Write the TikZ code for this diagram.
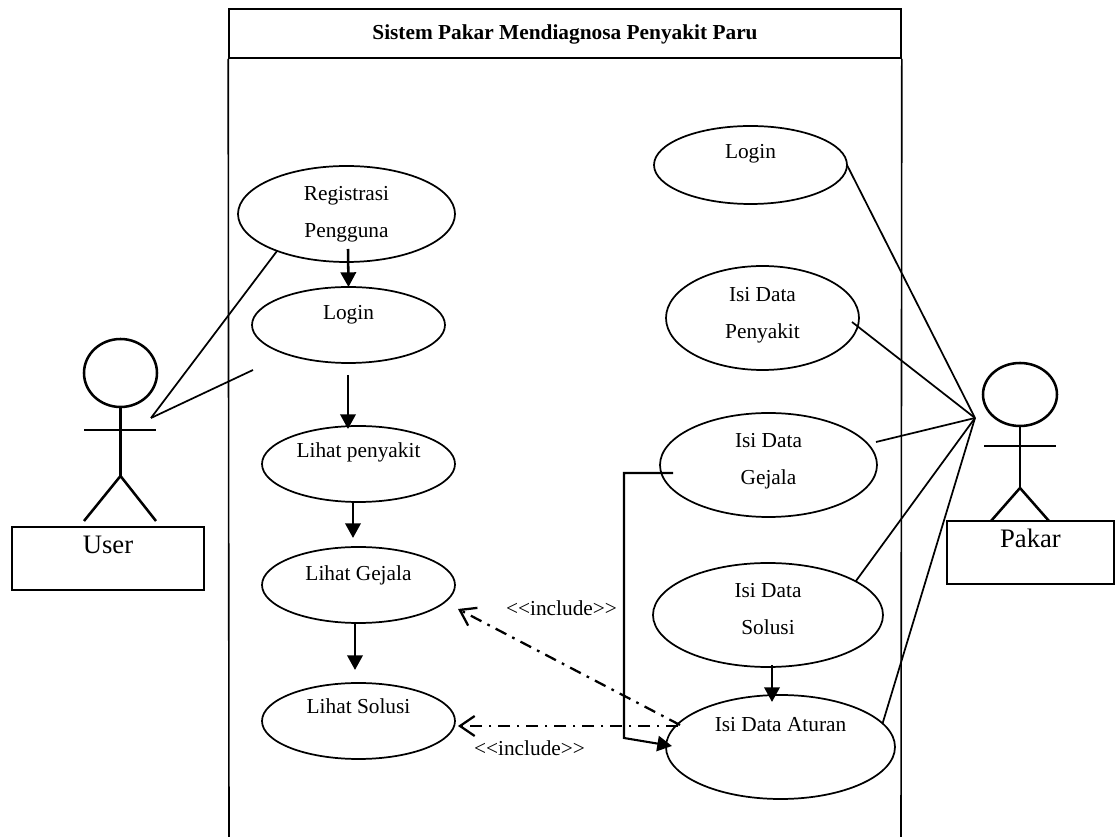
\documentclass[tikz,border=0pt]{standalone}
\usepackage{fontspec}
\setmainfont{Liberation Serif}
\usetikzlibrary{shapes.geometric,arrows.meta}
\tikzset{
  usecase/.style 2 args={draw,ellipse,line width=1.3pt,inner sep=0pt,outer sep=0pt,%
                         minimum width=#1*0.75pt,minimum height=#2*0.75pt,align=center},
  oneline/.style={text height=11pt,text depth=#1},
  oneline/.default=18.5pt,
  twoline/.style={text depth=#1},
  namebox/.style 2 args={draw,line width=1.2pt,inner sep=0pt,font=\fontsize{20}{24}\selectfont,%
                         minimum width=#1*0.75pt,minimum height=#2*0.75pt,%
                         text height=14pt,text depth=22.2pt},
  head/.style={draw,ellipse,line width=1.9pt,inner sep=0pt},
  limb/.style={line width=1.9pt},
  assoc/.style={line width=1.3pt},
  frameline/.style={line width=1.2pt},
  flow/.style={line width=1.9pt,-{Triangle[length=11pt,width=11.5pt]}},
  incl/.style={line width=1.7pt,dash pattern=on 9pt off 5pt on 2pt off 5pt,%
               -{Straight Barb[length=11pt,width=15pt]}}
}
\begin{document}
\begin{tikzpicture}[x=0.75pt,y=-0.75pt,every node/.style={font=\fontsize{16}{27.5}\selectfont}]
\useasboundingbox (0,0) rectangle (1115,837);
% sistem
\node[draw,frameline,minimum width=504pt,minimum height=36.75pt,inner sep=0pt,%
      text height=13pt,text depth=3.5pt,%
      font=\fontsize{16}{27.5}\selectfont\bfseries] (sistem) at (565,33.5)
      {Sistem Pakar Mendiagnosa Penyakit Paru};
\coordinate (bawahkiri) at (229,837);
\coordinate (bawahkanan) at (901,837);
\draw[frameline] (sistem.south west) -- (bawahkiri);
\draw[frameline] (sistem.south east) -- (bawahkanan);
% use case user
\node[usecase={217}{96}] (registrasi) at (346.5,214) {Registrasi\\Pengguna};
\node[usecase={193}{76},oneline] (login) at (348.5,325) {Login};
\node[usecase={193}{76},oneline=20pt] (penyakit) at (358.5,464) {Lihat penyakit};
\node[usecase={193}{76},oneline=17pt] (gejala) at (358.5,585) {Lihat Gejala};
\node[usecase={193}{76},oneline=21.5pt] (solusi) at (358.5,721) {Lihat Solusi};
% use case pakar
\node[usecase={193}{78},oneline=20pt] (loginp) at (750.5,165) {Login};
\node[usecase={193}{104},twoline=8pt] (isipenyakit) at (762.5,318) {Isi Data\\Penyakit};
\node[usecase={217}{104},twoline=9.5pt] (isigejala) at (768.5,465) {Isi Data\\Gejala};
\node[usecase={230}{104},twoline=9.5pt] (isisolusi) at (768,615) {Isi Data\\Solusi};
\node[usecase={229}{104},oneline=33.5pt] (isiaturan) at (780.5,747) {Isi Data Aturan};
% aktor user
\node[head,minimum width=54.75pt,minimum height=51pt] (kepalau) at (120.5,373) {};
\coordinate (pinggulu) at (120.5,476);
\coordinate (tanganul) at (84,430);
\coordinate (tanganur) at (156,430);
\coordinate (kakiul) at (84,521);
\coordinate (kakiur) at (156,521);
\draw[limb] (kepalau.south) -- (pinggulu);
\draw[limb] (tanganul) -- (tanganur);
\draw[limb] (kakiul) -- (pinggulu) -- (kakiur);
\node[namebox={192}{63}] (user) at (108,558.5) {User};
% aktor pakar
\node[head,minimum width=55.5pt,minimum height=47.25pt] (kepalap) at (1020,394.5) {};
\coordinate (pinggulp) at (1020,488);
\coordinate (tanganpl) at (984,446);
\coordinate (tanganpr) at (1056,446);
\coordinate (kakipl) at (991,521);
\coordinate (kakipr) at (1049,521);
\draw[limb] (kepalap.south) -- (pinggulp);
\draw[limb] (tanganpl) -- (tanganpr);
\draw[limb] (kakipl) -- (pinggulp) -- (kakipr);
\node[namebox={167}{63}] (pakar) at (1030.5,552.5) {Pakar};
% garis aktor
\coordinate (ujungu) at (151,418);
\coordinate (ujungp) at (975,418);
\coordinate (ujunglogin) at (253,370);
\coordinate (ujungpenyakit) at (852,322);
\coordinate (ujunggejala) at (876,442);
\draw[assoc] (registrasi.208) -- (ujungu);
\draw[assoc] (ujunglogin) -- (ujungu);
\draw[assoc] (loginp.east) -- (ujungp);
\draw[assoc] (ujungpenyakit) -- (ujungp);
\draw[assoc] (ujunggejala) -- (ujungp);
\draw[assoc] (isisolusi.21) -- (ujungp);
\draw[assoc] (isiaturan.13) -- (ujungp);
% panah
\coordinate (a1) at (348,249);
\coordinate (a2) at (348,375);
\coordinate (a3) at (348,429);
\coordinate (a4) at (353,502);
\coordinate (a5) at (353,538);
\coordinate (a6) at (355,623);
\coordinate (a7) at (355,670);
\coordinate (a8) at (772,665);
\coordinate (a9) at (772,702);
\draw[flow] (a1) -- (login.north);
\draw[flow] (a2) -- (a3);
\draw[flow] (a4) -- (a5);
\draw[flow] (a6) -- (a7);
\draw[flow] (a8) -- (a9);
\coordinate (b1) at (673,473);
\coordinate (b2) at (624,473);
\coordinate (b3) at (624,738);
\coordinate (b4) at (672,746);
\draw[line width=1.6pt,-{Triangle[length=11pt,width=11.5pt]}] (b1) -- (b2) -- (b3) -- (b4);
% include
\coordinate (c1) at (680,725);
\coordinate (c2) at (458,609);
\coordinate (c3) at (678,726);
\coordinate (c4) at (458,726);
\draw[incl] (c1) -- (c2);
\draw[incl] (c3) -- (c4);
\node[inner sep=0pt] (inclgejala) at (561.5,608) {<{}<include>{}>};
\node[inner sep=0pt] (inclsolusi) at (529.5,748) {<{}<include>{}>};
\end{tikzpicture}
\end{document}
